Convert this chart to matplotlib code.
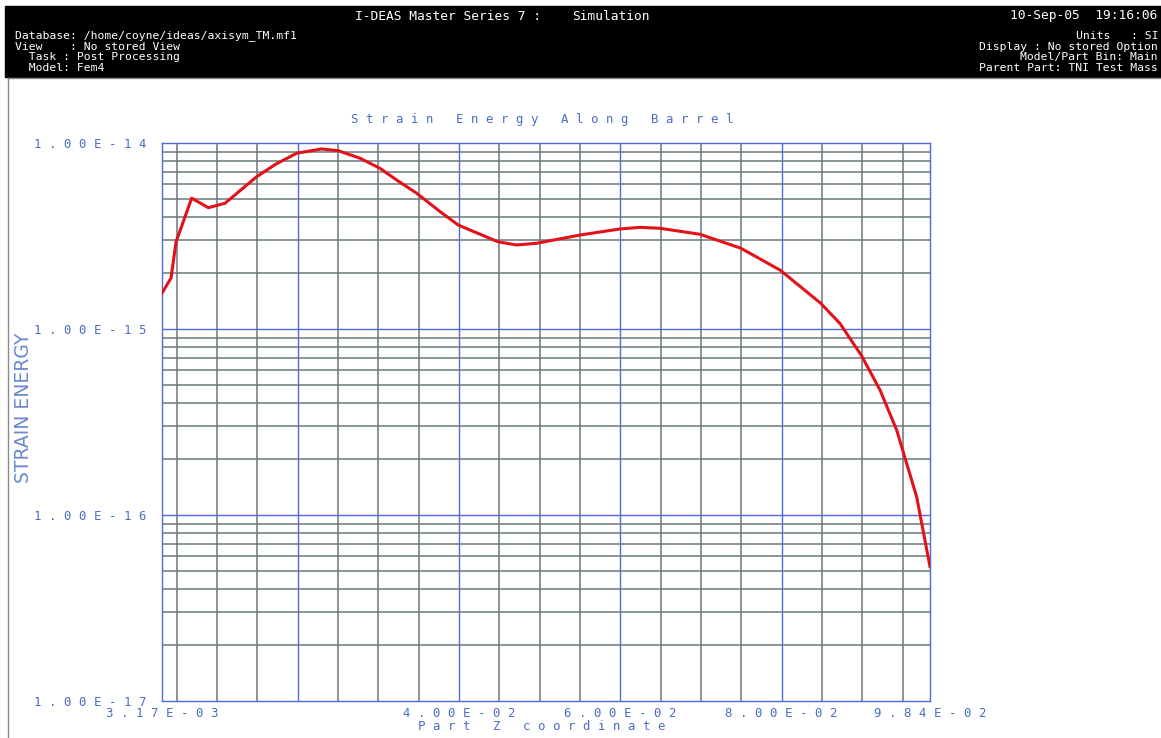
import matplotlib.pyplot as plt
from matplotlib.patches import Rectangle
from matplotlib.lines import Line2D

# curve: Part Z coordinate vs strain energy
z = [0.00317, 0.00429, 0.00491, 0.00685, 0.00891, 0.01098, 0.01491, 0.01731,
     0.01987, 0.02297, 0.02503, 0.02773, 0.03020, 0.03227, 0.03475, 0.03764,
     0.03991, 0.04487, 0.04715, 0.04963, 0.05500, 0.05996, 0.06244, 0.06492,
     0.06988, 0.07493, 0.07984, 0.08485, 0.08724, 0.08993, 0.09220, 0.09427,
     0.09675, 0.09840]
energy = [1.56e-15, 1.88e-15, 2.94e-15, 5.05e-15, 4.49e-15, 4.74e-15, 6.59e-15, 7.71e-15,
          8.81e-15, 9.29e-15, 9.09e-15, 8.28e-15, 7.31e-15, 6.32e-15, 5.37e-15, 4.28e-15,
          3.62e-15, 2.94e-15, 2.83e-15, 2.89e-15, 3.20e-15, 3.45e-15, 3.52e-15, 3.48e-15,
          3.23e-15, 2.72e-15, 2.07e-15, 1.375e-15, 1.07e-15, 7.16e-16, 4.70e-16, 2.86e-16,
          1.25e-16, 5.27e-17]

xticks = [0.00317, 0.04, 0.06, 0.08, 0.0984]
xticklabels = ["3.17E-03", "4.00E-02", "6.00E-02", "8.00E-02", "9.84E-02"]
yticks = [1e-17, 1e-16, 1e-15, 1e-14]
yticklabels = ["1.00E-17", "1.00E-16", "1.00E-15", "1.00E-14"]

header_left = ["Database: /home/coyne/ideas/axisym_TM.mf1",
               "View    : No stored View",
               "  Task : Post Processing",
               "  Model: Fem4"]
header_right = ["Units   : SI",
                "Display : No stored Option",
                "Model/Part Bin: Main",
                "Parent Part: TNI Test Mass"]

BLUE_TXT = '#4a6cc4'
BLUE_LN = '#4f6ae0'
GRAY_LN = '#6a7878'
W, H = 1161, 738


def spaced(s):
    # I-DEAS style letter spaced text
    return " ".join(s)


fig = plt.figure(figsize=(W / 100, H / 100), dpi=100)
fig.patch.set_facecolor('white')

# header bar
fig.add_artist(Rectangle((5 / W, 1 - 77 / H), 1 - 5 / W, 71 / H,
                         transform=fig.transFigure, color='black', zorder=0))
fig.add_artist(Line2D([8 / W, 1], [1 - 78 / H, 1 - 78 / H], color='#8a8a8a', lw=1))
fig.add_artist(Line2D([8 / W, 8 / W], [0, 1 - 78 / H], color='#8a8a8a', lw=1))

mono = 'DejaVu Sans Mono'
fig.text(355 / W, 1 - 16 / H, "I-DEAS Master Series 7 :", color='white', family=mono,
         fontsize=9.3, va='center', ha='left')
fig.text(572 / W, 1 - 16 / H, "Simulation", color='white', family=mono,
         fontsize=9.3, va='center', ha='left')
fig.text(1157 / W, 1 - 16 / H, "10-Sep-05  19:16:06", color='white', family=mono,
         fontsize=9.3, va='center', ha='right')
for i, (l, r) in enumerate(zip(header_left, header_right)):
    yy = 1 - (36 + i * 10.7) / H
    fig.text(15 / W, yy, l, color='white', family=mono, fontsize=8.2, va='center', ha='left')
    fig.text(1158 / W, yy, r, color='white', family=mono, fontsize=8.2, va='center', ha='right')

ax = fig.add_axes([162 / W, 1 - 701 / H, (930 - 162) / W, (701 - 143) / H])
ax.set_yscale('log')
ax.set_xlim(0.00317, 0.0984)
ax.set_ylim(1e-17, 1e-14)

# grid
for k in range(1, 20):
    xv = 0.005 * k
    if k % 4 == 0:
        ax.axvline(xv, color=BLUE_LN, lw=1.0, zorder=1)
    else:
        ax.axvline(xv, color=GRAY_LN, lw=1.1, zorder=1)
for d in [-17, -16, -15]:
    for m in range(2, 10):
        ax.axhline(m * 10.0 ** d, color=GRAY_LN, lw=1.1, zorder=1)
    if d > -17:
        ax.axhline(10.0 ** d, color=BLUE_LN, lw=1.0, zorder=1)

ax.plot(z, energy, color='#e3121a', lw=2.2, zorder=3, solid_joinstyle='round')

for s in ax.spines.values():
    s.set_color(BLUE_LN)
    s.set_linewidth(1.0)

ax.set_xticks(xticks, [spaced(t) for t in xticklabels])
ax.set_yticks(yticks, [spaced(t) for t in yticklabels])
ax.minorticks_off()
ax.tick_params(axis='both', length=0, colors=BLUE_TXT, labelsize=8.9)
ax.tick_params(axis='y', pad=11.5)
ax.tick_params(axis='x', pad=4.5)
for t in ax.get_xticklabels() + ax.get_yticklabels():
    t.set_family(mono)

fig.text(542 / W, 1 - 120 / H, "S t r a i n   E n e r g y   A l o n g   B a r r e l",
         family=mono, fontsize=8.9, color=BLUE_TXT, ha='center', va='center')
fig.text(542 / W, 1 - 727 / H, "P a r t   Z   c o o r d i n a t e",
         family=mono, fontsize=8.9, color=BLUE_TXT, ha='center', va='center')
fig.text(24 / W, 1 - 408 / H, "STRAIN ENERGY", rotation=90, fontsize=13.5,
         color='#6a88d0', ha='center', va='center')

fig.savefig('out.png', dpi=100)
